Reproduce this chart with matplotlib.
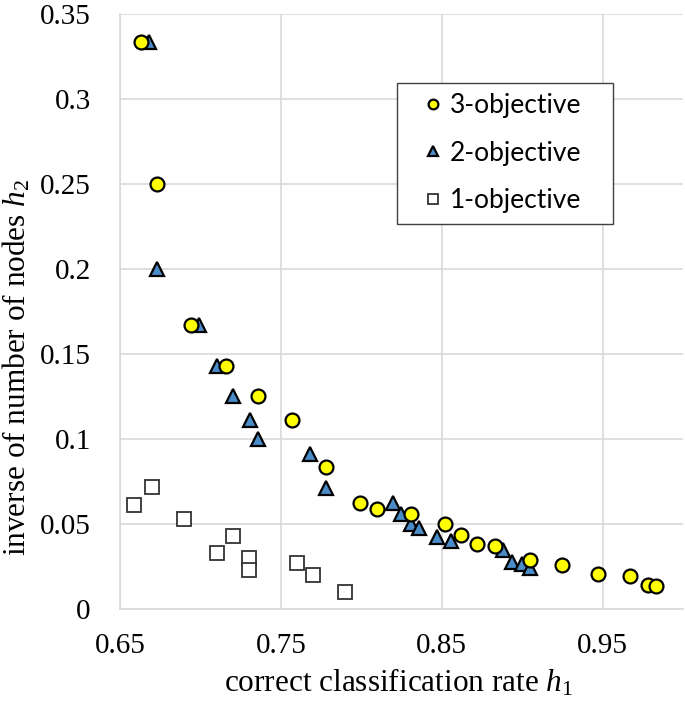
import numpy as np
import matplotlib.pyplot as plt

# 3-objective results (correct classification rate h1, inverse of number of nodes h2)
h1_three = [0.663, 0.673, 0.694, 0.716, 0.736, 0.757, 0.778, 0.799, 0.810, 0.831,
            0.852, 0.862, 0.872, 0.883, 0.905, 0.925, 0.947, 0.967, 0.978, 0.983]
h2_three = [0.3333, 0.25, 0.1667, 0.1429, 0.125, 0.1111, 0.0833, 0.0625, 0.0588, 0.0556,
            0.05, 0.0435, 0.0385, 0.0370, 0.0286, 0.0256, 0.0208, 0.0192, 0.0143, 0.0137]

# 2-objective results
h1_two = [0.668, 0.673, 0.699, 0.710, 0.720, 0.731, 0.736, 0.768, 0.778, 0.820,
          0.825, 0.831, 0.836, 0.847, 0.856, 0.888, 0.894, 0.900, 0.905]
h2_two = [0.3333, 0.2, 0.1667, 0.1429, 0.125, 0.1111, 0.1, 0.0909, 0.0714, 0.0625,
          0.0556, 0.05, 0.0476, 0.0426, 0.04, 0.0345, 0.0278, 0.0263, 0.0244]

# 1-objective results
h1_one = [0.659, 0.670, 0.690, 0.720, 0.710, 0.730, 0.730, 0.760, 0.770, 0.790]
h2_one = [0.0610, 0.0720, 0.0530, 0.0430, 0.0330, 0.0300, 0.0230, 0.0270, 0.0200, 0.0100]

xticks = [0.65, 0.75, 0.85, 0.95]
xtick_labels = ["0.65", "0.75", "0.85", "0.95"]
yticks = [0, 0.05, 0.1, 0.15, 0.2, 0.25, 0.3, 0.35]
ytick_labels = ["0", "0.05", "0.1", "0.15", "0.2", "0.25", "0.3", "0.35"]

plt.rcParams['mathtext.fontset'] = 'custom'
plt.rcParams['mathtext.rm'] = 'Liberation Serif'
plt.rcParams['mathtext.it'] = 'Liberation Serif:italic'

fig = plt.figure(figsize=(6.85, 7.01), dpi=100)
ax = fig.add_axes([0.1752, 0.1312, 0.8218, 0.8493])

ax.plot(h1_one, h2_one, 's', ms=9.5, mfc='white', mec='#333333', mew=1.3,
        linestyle='none', label='1-objective', zorder=3)
ax.plot(h1_two, h2_two, '^', ms=10.5, mfc='#4a8cc8', mec='black', mew=1.6,
        linestyle='none', label='2-objective', zorder=4)
ax.plot(h1_three, h2_three, 'o', ms=10, mfc='#ffff00', mec='black', mew=1.6,
        linestyle='none', label='3-objective', zorder=5)

ax.set_xlim(0.65, 1.0)
ax.set_ylim(0, 0.35)
ax.set_xticks(xticks)
ax.set_xticklabels(xtick_labels)
ax.set_yticks(yticks)
ax.set_yticklabels(ytick_labels)
ax.tick_params(length=0, labelsize=21)
ax.tick_params(axis='x', pad=17)
ax.tick_params(axis='y', pad=21)
for lbl in ax.get_xticklabels() + ax.get_yticklabels():
    lbl.set_fontfamily('Liberation Serif')

ax.grid(True, color='#d9d9d9', linewidth=1.2)
ax.set_axisbelow(True)
for side in ['top', 'right']:
    ax.spines[side].set_visible(False)
for side in ['left', 'bottom']:
    ax.spines[side].set_color('#d9d9d9')
    ax.spines[side].set_linewidth(1.2)

ax.set_xlabel('correct classification rate $h_1$', fontsize=22.5,
              fontfamily='Liberation Serif', va='center')
ax.set_ylabel('inverse of number of nodes $h_2$', fontsize=22.5,
              fontfamily='Liberation Serif', va='center')
ax.xaxis.set_label_coords(0.494, -0.123)
ax.yaxis.set_label_coords(-0.183, 0.405)

handles, labels = ax.get_legend_handles_labels()
order = [2, 1, 0]
leg = ax.legend([handles[i] for i in order], [labels[i] for i in order],
                loc='upper left', bbox_to_anchor=(0.492, 0.784, 0.3837, 0.1),
                mode='expand', borderaxespad=0,
                prop={'family': 'Lato', 'size': 19}, markerscale=0.7,
                handlelength=1.9, handletextpad=-0.3, labelspacing=0.85,
                borderpad=0.4, fancybox=False, framealpha=1,
                edgecolor='#404040')
leg.get_frame().set_linewidth(1.0)

fig.savefig('out.png', dpi=100)
